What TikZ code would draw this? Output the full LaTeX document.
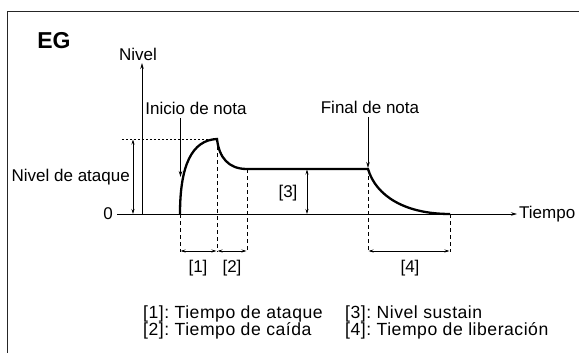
\documentclass[tikz,border=0pt]{standalone}
\usepackage{fontspec}
\setmainfont{Liberation Sans}
\newfontfamily\keyfont[LetterSpace=3]{Liberation Sans}
\usetikzlibrary{arrows.meta}
\frenchspacing
\begin{document}
\begin{tikzpicture}[x=1pt,y=-1pt,
  lbl/.style={font=\fontsize{17}{17}\selectfont, inner sep=0pt},
  key/.style={font=\keyfont\fontsize{17.6}{17}\selectfont, inner sep=0pt, anchor=west},
  frame/.style={line width=1pt, draw=black!85},
  axis/.style={line width=0.8pt, -{Stealth[length=6pt,width=3.5pt]}},
  env/.style={line width=2.3pt},
  dimarrow/.style={line width=0.7pt, {Stealth[length=5pt,width=3pt]}-{Stealth[length=5pt,width=3pt]}},
  guide/.style={line width=0.8pt, dash pattern=on 4pt off 3pt},
  dots/.style={line width=0.8pt, dash pattern=on 2pt off 2pt},
  ptr/.style={line width=0.8pt, -{Stealth[length=6pt,width=3.5pt]}}
]
\useasboundingbox (0,0) rectangle (579,353);
\draw[frame] (7,353) -- (7,12) -- (579,12);

\node[font=\bfseries\fontsize{23}{23}\selectfont, inner sep=0pt] (eg) at (54,41) {EG};

% key points
\coordinate (S) at (180,214);
\coordinate (P) at (217,139);
\coordinate (D) at (247,169);
\coordinate (R) at (368,169);
\coordinate (E) at (450,214);

% axes
\coordinate (y0) at (142,214);
\coordinate (y1) at (142,63);
\coordinate (t0) at (117,214);
\coordinate (t1) at (517,214);
\draw[axis] (y0) -- (y1);
\draw[axis] (t0) -- (t1);
\node[lbl] (nivel) at (138,54) {Nivel};
\node[lbl] (zero) at (108,214) {0};
\node[lbl, anchor=west] (tiempo) at (519,214.5) {Tiempo};

% attack level
\coordinate (dl) at (122,139);
\draw[dots] (dl) -- (P);
\coordinate (aT) at (133,139.5);
\coordinate (aB) at (133,214);
\draw[dimarrow] (aT) -- (aB);
\node[lbl, anchor=east] (ataque) at (130,177) {Nivel de ataque};

% envelope
\draw[env] (S) .. controls (180,165) and (192,140) .. (P)
  .. controls (219,157) and (228,169) .. (D) -- (R)
  .. controls (376,196) and (405,214) .. (E);

% dashed guides
\coordinate (Sb) at (180,252);
\coordinate (Pb) at (217,252);
\coordinate (Db) at (247,252);
\coordinate (Rb) at (368,252);
\coordinate (Eb) at (450,252);
\draw[guide] (S) -- (Sb);
\draw[guide] (P) -- (Pb);
\draw[guide] (D) -- (Db);
\draw[guide] (R) -- (Rb);
\draw[guide] (E) -- (Eb);

% time dimensions
\coordinate (d1a) at (180.5,251);
\coordinate (d1b) at (216.5,251);
\coordinate (d2a) at (217.5,251);
\coordinate (d2b) at (246.5,251);
\coordinate (d4a) at (368.5,251);
\coordinate (d4b) at (449.5,251);
\draw[dimarrow] (d1a) -- (d1b);
\draw[dimarrow] (d2a) -- (d2b);
\draw[dimarrow] (d4a) -- (d4b);
\node[lbl] (l1) at (198,268) {[1]};
\node[lbl] (l2) at (232,268) {[2]};
\node[lbl] (l4) at (410,268) {[4]};

% sustain level
\coordinate (sT) at (307,169.5);
\coordinate (sB) at (307,214);
\draw[dimarrow] (sT) -- (sB);
\node[lbl] (l3) at (288,193) {[3]};

% note on / off
\node[lbl] (inicio) at (196,108) {Inicio de nota};
\coordinate (i0) at (180.5,118);
\coordinate (i1) at (180.5,177);
\draw[ptr] (i0) -- (i1);
\node[lbl] (final) at (370,107) {Final de nota};
\coordinate (f0) at (368,117);
\coordinate (f1) at (368,168);
\draw[ptr] (f0) -- (f1);

% legend
\node[key] (k1) at (143,314) {[1]: Tiempo de ataque};
\node[key] (k2) at (143,331) {[2]: Tiempo de caída};
\node[key] (k3) at (345,314) {[3]: Nivel sustain};
\node[key] (k4) at (345,331) {[4]: Tiempo de liberación};
\end{tikzpicture}
\end{document}
